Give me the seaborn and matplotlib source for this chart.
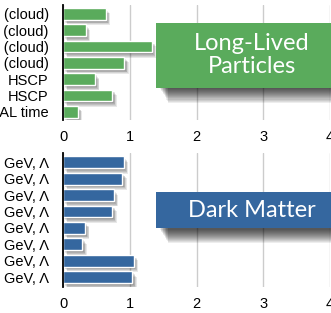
import pandas as pd
import matplotlib
matplotlib.use("Agg")
import matplotlib.pyplot as plt
import matplotlib.patheffects as pe
from matplotlib.patches import Rectangle
import seaborn as sns

llp_labels = ["Jets (cloud)", "Leptons (cloud)", "Vertex (cloud)",
              "Tracks (cloud)", "HSCP", "HSCP", "ECAL time"]
llp_values = [0.64, 0.34, 1.33, 0.92, 0.48, 0.74, 0.22]

dm_labels = ["Mχ < 1 GeV, Λ"] * 8
dm_values = [0.91, 0.89, 0.76, 0.74, 0.33, 0.29, 1.06, 1.04]

xticks = [0, 1, 2, 3, 4]

green = "#5aab5c"
blue = "#35679f"

sns.set_style("white")
plt.rcParams["font.family"] = ["Liberation Sans", "DejaVu Sans"]

fig = plt.figure(figsize=(3.31, 3.13), dpi=100)
W, H = 331, 313


def px_axes(x0, y0, x1, y1):
    return fig.add_axes([x0 / W, 1 - y1 / H, (x1 - x0) / W, (y1 - y0) / H])


def bar_shadow():
    eff = []
    for i in range(6):
        eff.append(pe.SimplePatchShadow(offset=(0.6 + i * 0.5, -0.8 - i * 0.6),
                                        shadow_rgbFace="k", alpha=0.09))
    eff.append(pe.Normal())
    return eff


def style_axes(ax, labels, ylim):
    ax.set_xlim(0, 4)
    ax.set_ylim(*ylim)
    ax.set_xticks(xticks)
    ax.set_yticks(range(len(labels)), labels)
    ax.set_xlabel("")
    ax.set_ylabel("")
    ax.grid(axis="x", color="#cccccc", linewidth=1)
    ax.grid(axis="y", visible=False)
    ax.set_axisbelow(True)
    for s in ["top", "right", "bottom"]:
        ax.spines[s].set_visible(False)
    ax.spines["left"].set_color("black")
    ax.spines["left"].set_linewidth(1.3)
    ax.tick_params(axis="both", length=0, labelsize=10.5, colors="black")
    ax.tick_params(axis="y", pad=10.3)
    ax.tick_params(axis="x", pad=7)
    for p in ax.patches:
        p.set_path_effects(bar_shadow())


llp = pd.DataFrame({"row": [str(i) for i in range(len(llp_values))], "value": llp_values})
dm = pd.DataFrame({"row": [str(i) for i in range(len(dm_values))], "value": dm_values})

ax1 = px_axes(63, 5, 330, 120)
sns.barplot(data=llp, x="value", y="row", color=green, saturation=1, width=0.72, ax=ax1)
style_axes(ax1, llp_labels, (6.5, -0.55))

ax2 = px_axes(63, 153, 330, 287)
sns.barplot(data=dm, x="value", y="row", color=blue, saturation=1, width=0.72, ax=ax2)
style_axes(ax2, dm_labels, (7.6, -0.57))


def title_box(y0, y1, color, text):
    r = Rectangle((156 / W, 1 - y1 / H), (W - 156) / W + 0.01, (y1 - y0) / H,
                  transform=fig.transFigure, facecolor=color, edgecolor="none", zorder=5)
    shadows = [pe.SimplePatchShadow(offset=(3 + i * 0.45, -1 - i * 0.75),
                                    shadow_rgbFace="k", alpha=0.07)
               for i in range(14)]
    r.set_path_effects(shadows + [pe.Normal()])
    fig.add_artist(r)
    fig.text(252 / W, 1 - (y0 + y1) / 2 / H, text, ha="center", va="center",
             color="white", fontsize=17, family=["Lato", "DejaVu Sans"],
             linespacing=1.1, zorder=6)


title_box(22.7, 87.7, green, "Long-Lived\nParticles")
title_box(192.3, 228.3, blue, "Dark Matter")

fig.savefig("out.png", dpi=100)
